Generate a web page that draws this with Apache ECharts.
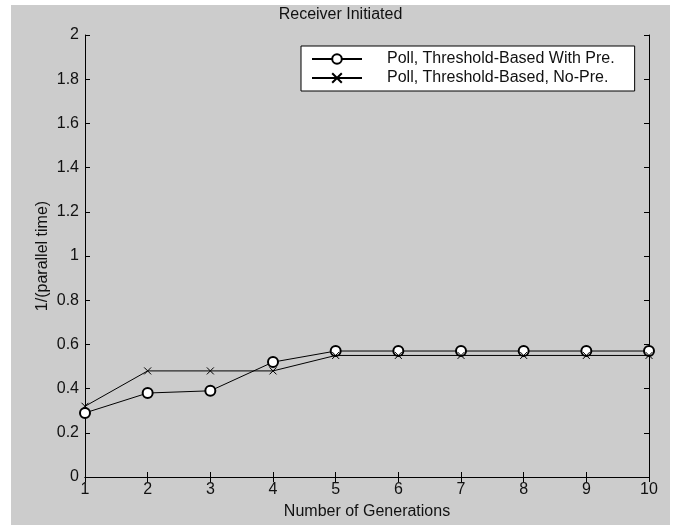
<!DOCTYPE html>
<html>
<head>
<meta charset="utf-8">
<script src="https://cdn.jsdelivr.net/npm/echarts@6/dist/echarts.min.js"></script>
<style>
  html, body { margin: 0; padding: 0; background: #fff; }
  #main { position: absolute; left: 11px; top: 5px; width: 659px; height: 520px; background: #cccccc; }
</style>
</head>
<body>
<div id="main"></div>
<script type="text/javascript">
  var generations = [1, 2, 3, 4, 5, 6, 7, 8, 9, 10];
  var withPre = [0.29, 0.38, 0.39, 0.52, 0.57, 0.57, 0.57, 0.57, 0.57, 0.57];
  var noPre = [0.32, 0.48, 0.48, 0.48, 0.55, 0.55, 0.55, 0.55, 0.55, 0.55];
  var seriesNames = ['Poll, Threshold-Based With Pre.', 'Poll, Threshold-Based, No-Pre.'];

  function pairs(vals) {
    var out = [];
    for (var i = 0; i < generations.length; i++) {
      out.push([generations[i], vals[i]]);
    }
    return out;
  }

  var font = 'Liberation Sans, Arial, sans-serif';
  var crossPath = 'path://M0,0L10,10M10,0L0,10';

  var chart = echarts.init(document.getElementById('main'));

  var option = {
    animation: false,
    title: {
      text: 'Receiver Initiated',
      left: 'center',
      top: -3,
      textStyle: { fontFamily: font, fontSize: 16, fontWeight: 'normal', color: '#111' }
    },
    legend: {
      left: 290,
      top: 41,
      orient: 'vertical',
      backgroundColor: '#fff',
      borderColor: '#000',
      borderWidth: 1,
      padding: [5, 20, 5, 10],
      itemGap: 3,
      itemWidth: 50,
      itemHeight: 12,
      textStyle: { fontFamily: font, fontSize: 16, color: '#111', padding: [0, 0, 0, 20] },
      data: seriesNames
    },
    grid: { left: 74, top: 30, right: 21, bottom: 48 },
    xAxis: [{
      type: 'value',
      min: 1,
      max: 10,
      interval: 1,
      name: 'Number of Generations',
      nameLocation: 'middle',
      nameGap: 27,
      nameTextStyle: { fontFamily: font, fontSize: 16, color: '#111' },
      axisLine: { lineStyle: { color: '#000', width: 1 } },
      axisTick: { inside: true, length: 5, lineStyle: { color: '#000' } },
      axisLabel: { fontFamily: font, fontSize: 16, color: '#111', margin: 5 },
      splitLine: { show: false }
    }, {
      type: 'value',
      position: 'top',
      min: 1,
      max: 10,
      interval: 1,
      axisLine: { lineStyle: { color: '#000', width: 1 } },
      axisTick: { inside: true, length: 5, lineStyle: { color: '#000' } },
      axisLabel: { show: false },
      splitLine: { show: false }
    }],
    yAxis: [{
      type: 'value',
      min: 0,
      max: 2,
      interval: 0.2,
      name: '1/(parallel time)',
      nameLocation: 'middle',
      nameGap: 34,
      nameMoveOverlap: false,
      nameTextStyle: { fontFamily: font, fontSize: 16, color: '#111' },
      axisLine: { show: true, lineStyle: { color: '#000', width: 1 } },
      axisTick: { show: true, inside: true, length: 5, lineStyle: { color: '#000' } },
      axisLabel: {
        fontFamily: font, fontSize: 16, color: '#111', margin: 6,
        formatter: function (v) { return String(Math.round(v * 10) / 10); }
      },
      splitLine: { show: false }
    }, {
      type: 'value',
      position: 'right',
      min: 0,
      max: 2,
      interval: 0.2,
      axisLine: { show: true, lineStyle: { color: '#000', width: 1 } },
      axisTick: { show: true, inside: true, length: 5, lineStyle: { color: '#000' } },
      axisLabel: { show: false },
      splitLine: { show: false }
    }],
    series: [{
      name: seriesNames[0],
      type: 'line',
      data: pairs(withPre),
      symbol: 'emptyCircle',
      symbolSize: 10,
      showAllSymbol: true,
      lineStyle: { color: '#000', width: 1 },
      itemStyle: { color: '#000', borderColor: '#000', borderWidth: 1 }
    }, {
      name: seriesNames[1],
      type: 'line',
      data: pairs(noPre),
      symbol: crossPath,
      symbolSize: 7,
      showAllSymbol: true,
      lineStyle: { color: '#000', width: 1 },
      itemStyle: { color: 'none', borderColor: '#000', borderWidth: 1 }
    }]
  };

  chart.setOption(option);
</script>
</body>
</html>
